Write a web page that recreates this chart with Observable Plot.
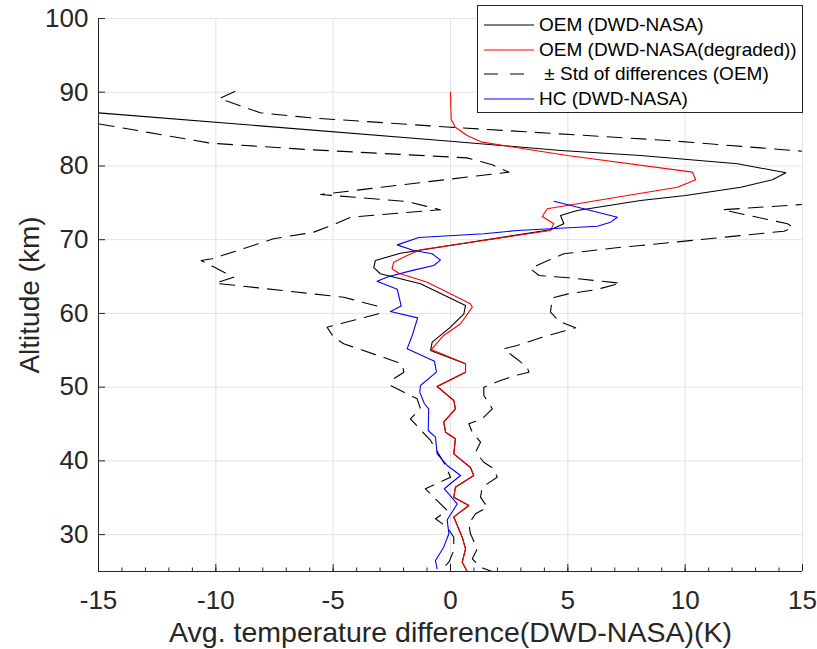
<!DOCTYPE html>
<html>
<head>
<meta charset="utf-8">
<script src="https://cdn.jsdelivr.net/npm/d3@7"></script>
<script src="https://cdn.jsdelivr.net/npm/@observablehq/plot@0.6"></script>
<style>
  body { margin: 0; background: #fff; }
  #chart { position: relative; width: 817px; height: 649px; font-family: "Liberation Sans", Arial, sans-serif; }
  #chart svg { display: block; }
  .legend { position: absolute; left: 477px; top: 5px; width: 326px; height: 108px; box-sizing: border-box;
            border: 1px solid #262626; background: #fff; }
  .legend .row { position: absolute; left: 0; height: 24px; display: flex; align-items: center; }
  .legend .row svg { margin-left: 6px; margin-right: 5px; }
  .legend .row span { font-size: 19px; color: #000; white-space: pre; }
</style>
</head>
<body>
<div id="chart"></div>
<script>
// Mean temperature difference profiles (K) against altitude (km)

// OEM retrieval, DWD minus NASA
const oemAlt  = [89.0, 87.2, 83.36, 82.1, 81.42, 80.3, 79.08, 78.13, 77.12, 76.0, 75.32, 73.97, 73.29, 72.16, 71.35,
                 68.17, 67.18, 66.2, 65.38, 64.02, 61.08, 59.95, 58.14, 56.1, 54.97, 53.17, 52.03, 50.09, 48.19, 47.07,
                 45.25, 43.89, 43.0, 40.96, 39.1, 38.02, 36.43, 35.08, 33.95, 32.4, 29.65, 28.08, 26.26, 25.0];
const oemDiff = [-22, -15, 0, 4.69, 8.1, 12.23, 14.29, 13.72, 12.37, 10.02, 8.1, 5.4, 4.69, 4.83, 4.26,
                 -2.13, -3.2, -3.27, -2.99, -1.28, 0.64, 0.57, 0, -0.78, -0.85, 0.64, 0.64, -0.57, 0.14, 0.21,
                 -0.29, -0.21, 0.21, 0.14, 0.85, 0.99, 0.21, 0.14, 0.78, 0.14, 0.5, 0.64, 0.5, 0.71];

// OEM retrieval with degraded NASA profiles
const degAlt  = [90.0, 86.26, 85.26, 84.13, 83.23, 81.42, 79.16, 78.13, 77.12, 74.2, 73.15, 72.16, 71.25, 68.63,
                 67.86, 66.95, 66.06, 65.46, 64.24, 61.31, 60.85, 58.6, 57.01, 55.1, 53.17, 52.03, 50.09, 48.19,
                 47.07, 45.25, 43.89, 43.0, 40.96, 39.1, 38.02, 36.43, 35.08, 33.95, 32.4, 29.65, 28.08, 26.26, 25.0];
const degDiff = [0, 0.03, 0.21, 0.71, 1.35, 4.98, 10.31, 10.45, 9.67, 4.12, 3.91, 4.4, 4.26, -1.28,
                 -1.85, -2.42, -2.49, -2.2, -0.99, 0.85, 0.93, 0.43, -0.29, -0.82, 0.64, 0.64, -0.57, 0.14,
                 0.21, -0.29, -0.21, 0.21, 0.14, 0.85, 0.99, 0.21, 0.14, 0.78, 0.14, 0.5, 0.64, 0.5, 0.71];

// Lower envelope: OEM minus standard deviation of differences
const lowAlt  = [87.9, 85.72, 83.09, 82.2, 81.1, 80.16, 79.16, 76.13, 75.18, 74.06, 73.05, 72.16, 71.02, 70.13,
                 67.41, 67.18, 64.92, 64.1, 62.2, 60.94, 59.95, 58.13, 56.78, 55.88, 53.17, 52.03, 51.13, 50.23,
                 48.42, 47.07, 45.71, 42.77, 39.38, 37.79, 36.22, 33.27, 32.15, 31.01, 29.65, 27.85, 26.26, 24.9];
const lowDiff = [-19, -15, -10.23, -5.97, 0.71, 1.78, 2.49, -5.54, -1.85, -0.43, -4.26, -4.9, -5.83, -7.54,
                 -10.16, -10.63, -9.24, -10.02, -4.55, -3.06, -3.06, -5.26, -4.98, -4.55, -2.06, -1.99, -2.42, -2.56,
                 -1.42, -1.28, -1.71, -0.85, -0.21, 0, -1.07, -0.14, -0.64, -0.14, 0.14, 0.14, -0.07, -0.5];

// Upper envelope: OEM plus standard deviation of differences
const highAlt  = [90.1, 89.15, 87.21, 86.53, 85.26, 83.46, 82.0, 78.5, 74.78, 74.06, 72.16, 71.66, 71.15, 69.21,
                  68.98, 68.09, 66.64, 66.06, 65.15, 64.83, 64.1, 63.21, 62.66, 62.12, 60.17, 58.95, 58.05, 56.78,
                  55.65, 55.2, 54.3, 52.71, 52.03, 51.58, 50.9, 49.99, 48.87, 47.07, 45.71, 45.03, 43.89, 42.54,
                  41.18, 39.82, 38.93, 37.79, 36.43, 35.08, 33.72, 32.83, 31.47, 30.11, 28.08, 26.72, 25.58, 24.9];
const highDiff = [-9.19, -9.85, -8.1, -5.97, 0, 9.24, 15.0, 18.5, 15.0, 11.59, 14.36, 14.6, 14.21, 8.1,
                  7.25, 4.83, 3.77, 3.41, 3.77, 5.04, 7.25, 6.18, 5.04, 4.34, 4.26, 4.62, 5.33, 3.91,
                  2.84, 2.27, 2.63, 3.27, 3.34, 2.77, 2.13, 1.42, 1.42, 1.78, 1.35, 0.78, 0.93, 1.28,
                  1.07, 1.42, 1.85, 1.99, 1.35, 1.28, 1.57, 1.07, 0.78, 0.85, 1.14, 0.93, 1.28, 1.85];

// HC retrieval, DWD minus NASA
const hcAlt  = [75.22, 73.05, 72.38, 71.83, 71.25, 70.8, 70.3, 69.3, 68.54, 68.09, 67.23, 66.5, 65.87, 65.0,
                64.35, 63.28, 61.0, 60.26, 59.4, 57.01, 55.2, 53.5, 52.03, 50.23, 49.33, 47.75, 47.07, 44.12,
                43.22, 40.96, 39.38, 38.02, 37.11, 36.22, 34.18, 32.01, 30.11, 28.3, 26.49, 25.37];
const hcDiff = [4.41, 7.11, 6.82, 6.26, 2.84, 1.42, -1.35, -2.27, -1.57, -0.78, -0.43, -0.71, -1.57, -2.63,
                -3.13, -2.27, -2.1, -2.56, -1.4, -1.63, -1.85, -0.68, -0.6, -1.28, -1.31, -1.11, -0.93, -0.95,
                -0.64, -0.57, -0.14, 0.43, 0.07, -0.26, 0.29, -0.14, -0.07, -0.29, -0.64, -0.57];

// Axes
const xTicks = [-15, -10, -5, 0, 5, 10, 15];
const xMinorTicks = d3.range(-15, 16, 1);
const yTicks = [30, 40, 50, 60, 70, 80, 90, 100];
const xLabel = "Avg. temperature difference(DWD-NASA)(K)";
const yLabel = "Altitude (km)";

// Legend
const legendNames = ["OEM (DWD-NASA)", "OEM (DWD-NASA(degraded))", " ± Std of differences (OEM)", "HC (DWD-NASA)"];
const legendColors = ["#000000", "#ff0000", "#000000", "#0000ff"];
const legendDashes = [null, null, "14,12", null];

const rows = (xs, ys) => xs.map((t, i) => ({t, h: ys[i]}));

const W = 817, H = 649;
const margin = {top: 18, right: 15, bottom: 78, left: 98};
const frameW = W - margin.left - margin.right;
const frameH = H - margin.top - margin.bottom;
const axisColor = "#262626";
const gridColor = "#e3e3e3";
const dash = "15,9";

const chart = Plot.plot({
  width: W,
  height: H,
  marginTop: margin.top,
  marginRight: margin.right,
  marginBottom: margin.bottom,
  marginLeft: margin.left,
  style: {fontFamily: "Liberation Sans, Arial, sans-serif", fontSize: "26px", color: axisColor, background: "#fff"},
  x: {domain: [-15, 15]},
  y: {domain: [25, 100]},
  marks: [
    // grid
    Plot.ruleX(xTicks, {x: d => d, stroke: gridColor, strokeWidth: 1}),
    Plot.ruleY(yTicks, {y: d => d, stroke: gridColor, strokeWidth: 1}),
    // profiles
    Plot.line(rows(lowDiff, lowAlt), {x: "t", y: "h", stroke: "#000", strokeWidth: 1.1, strokeDasharray: dash, clip: true}),
    Plot.line(rows(highDiff, highAlt), {x: "t", y: "h", stroke: "#000", strokeWidth: 1.1, strokeDasharray: dash, clip: true}),
    Plot.line(rows(oemDiff, oemAlt), {x: "t", y: "h", stroke: "#000", strokeWidth: 1.1, clip: true}),
    Plot.line(rows(degDiff, degAlt), {x: "t", y: "h", stroke: "#ff0000", strokeWidth: 1.1, clip: true}),
    Plot.line(rows(hcDiff, hcAlt), {x: "t", y: "h", stroke: "#0000ff", strokeWidth: 1.1, clip: true}),
    // axis lines and inward ticks
    Plot.ruleX([-15], {x: d => d, stroke: axisColor}),
    Plot.ruleY([25], {y: d => d, stroke: axisColor}),
    Plot.ruleX(xMinorTicks, {x: d => d, stroke: axisColor, insetTop: frameH - 3.5}),
    Plot.ruleX(xTicks, {x: d => d, stroke: axisColor, insetTop: frameH - 7}),
    Plot.ruleY(yTicks, {y: d => d, stroke: axisColor, insetRight: frameW - 7}),
    // tick labels
    Plot.axisX(xTicks, {tickSize: 0, tickPadding: 19, tickFormat: d => String(d), label: null, fill: axisColor}),
    Plot.axisY(yTicks, {tickSize: 0, tickPadding: 10, tickFormat: d => String(d), label: null, fill: axisColor}),
    // axis titles
    Plot.text([xLabel], {text: d => d, frameAnchor: "bottom", textAnchor: "middle", lineAnchor: "middle",
                         dy: 61, fontSize: 28.5, fill: axisColor}),
    Plot.text([yLabel], {text: d => d, frameAnchor: "left", textAnchor: "middle", lineAnchor: "middle",
                         dx: -68, rotate: -90, fontSize: 28, fill: axisColor})
  ]
});

const container = document.getElementById("chart");
container.appendChild(chart);

const legend = d3.select(container).append("div").attr("class", "legend");
legendNames.forEach((name, i) => {
  const row = legend.append("div").attr("class", "row").style("top", (7 + i * 24.5) + "px");
  const sw = row.append("svg").attr("width", 50).attr("height", 10);
  const ln = sw.append("line").attr("x1", 0).attr("x2", 50).attr("y1", 5).attr("y2", 5)
    .attr("stroke", legendColors[i]).attr("stroke-width", 1);
  if (legendDashes[i]) ln.attr("stroke-dasharray", legendDashes[i]);
  row.append("span").text(name);
});
</script>
</body>
</html>
